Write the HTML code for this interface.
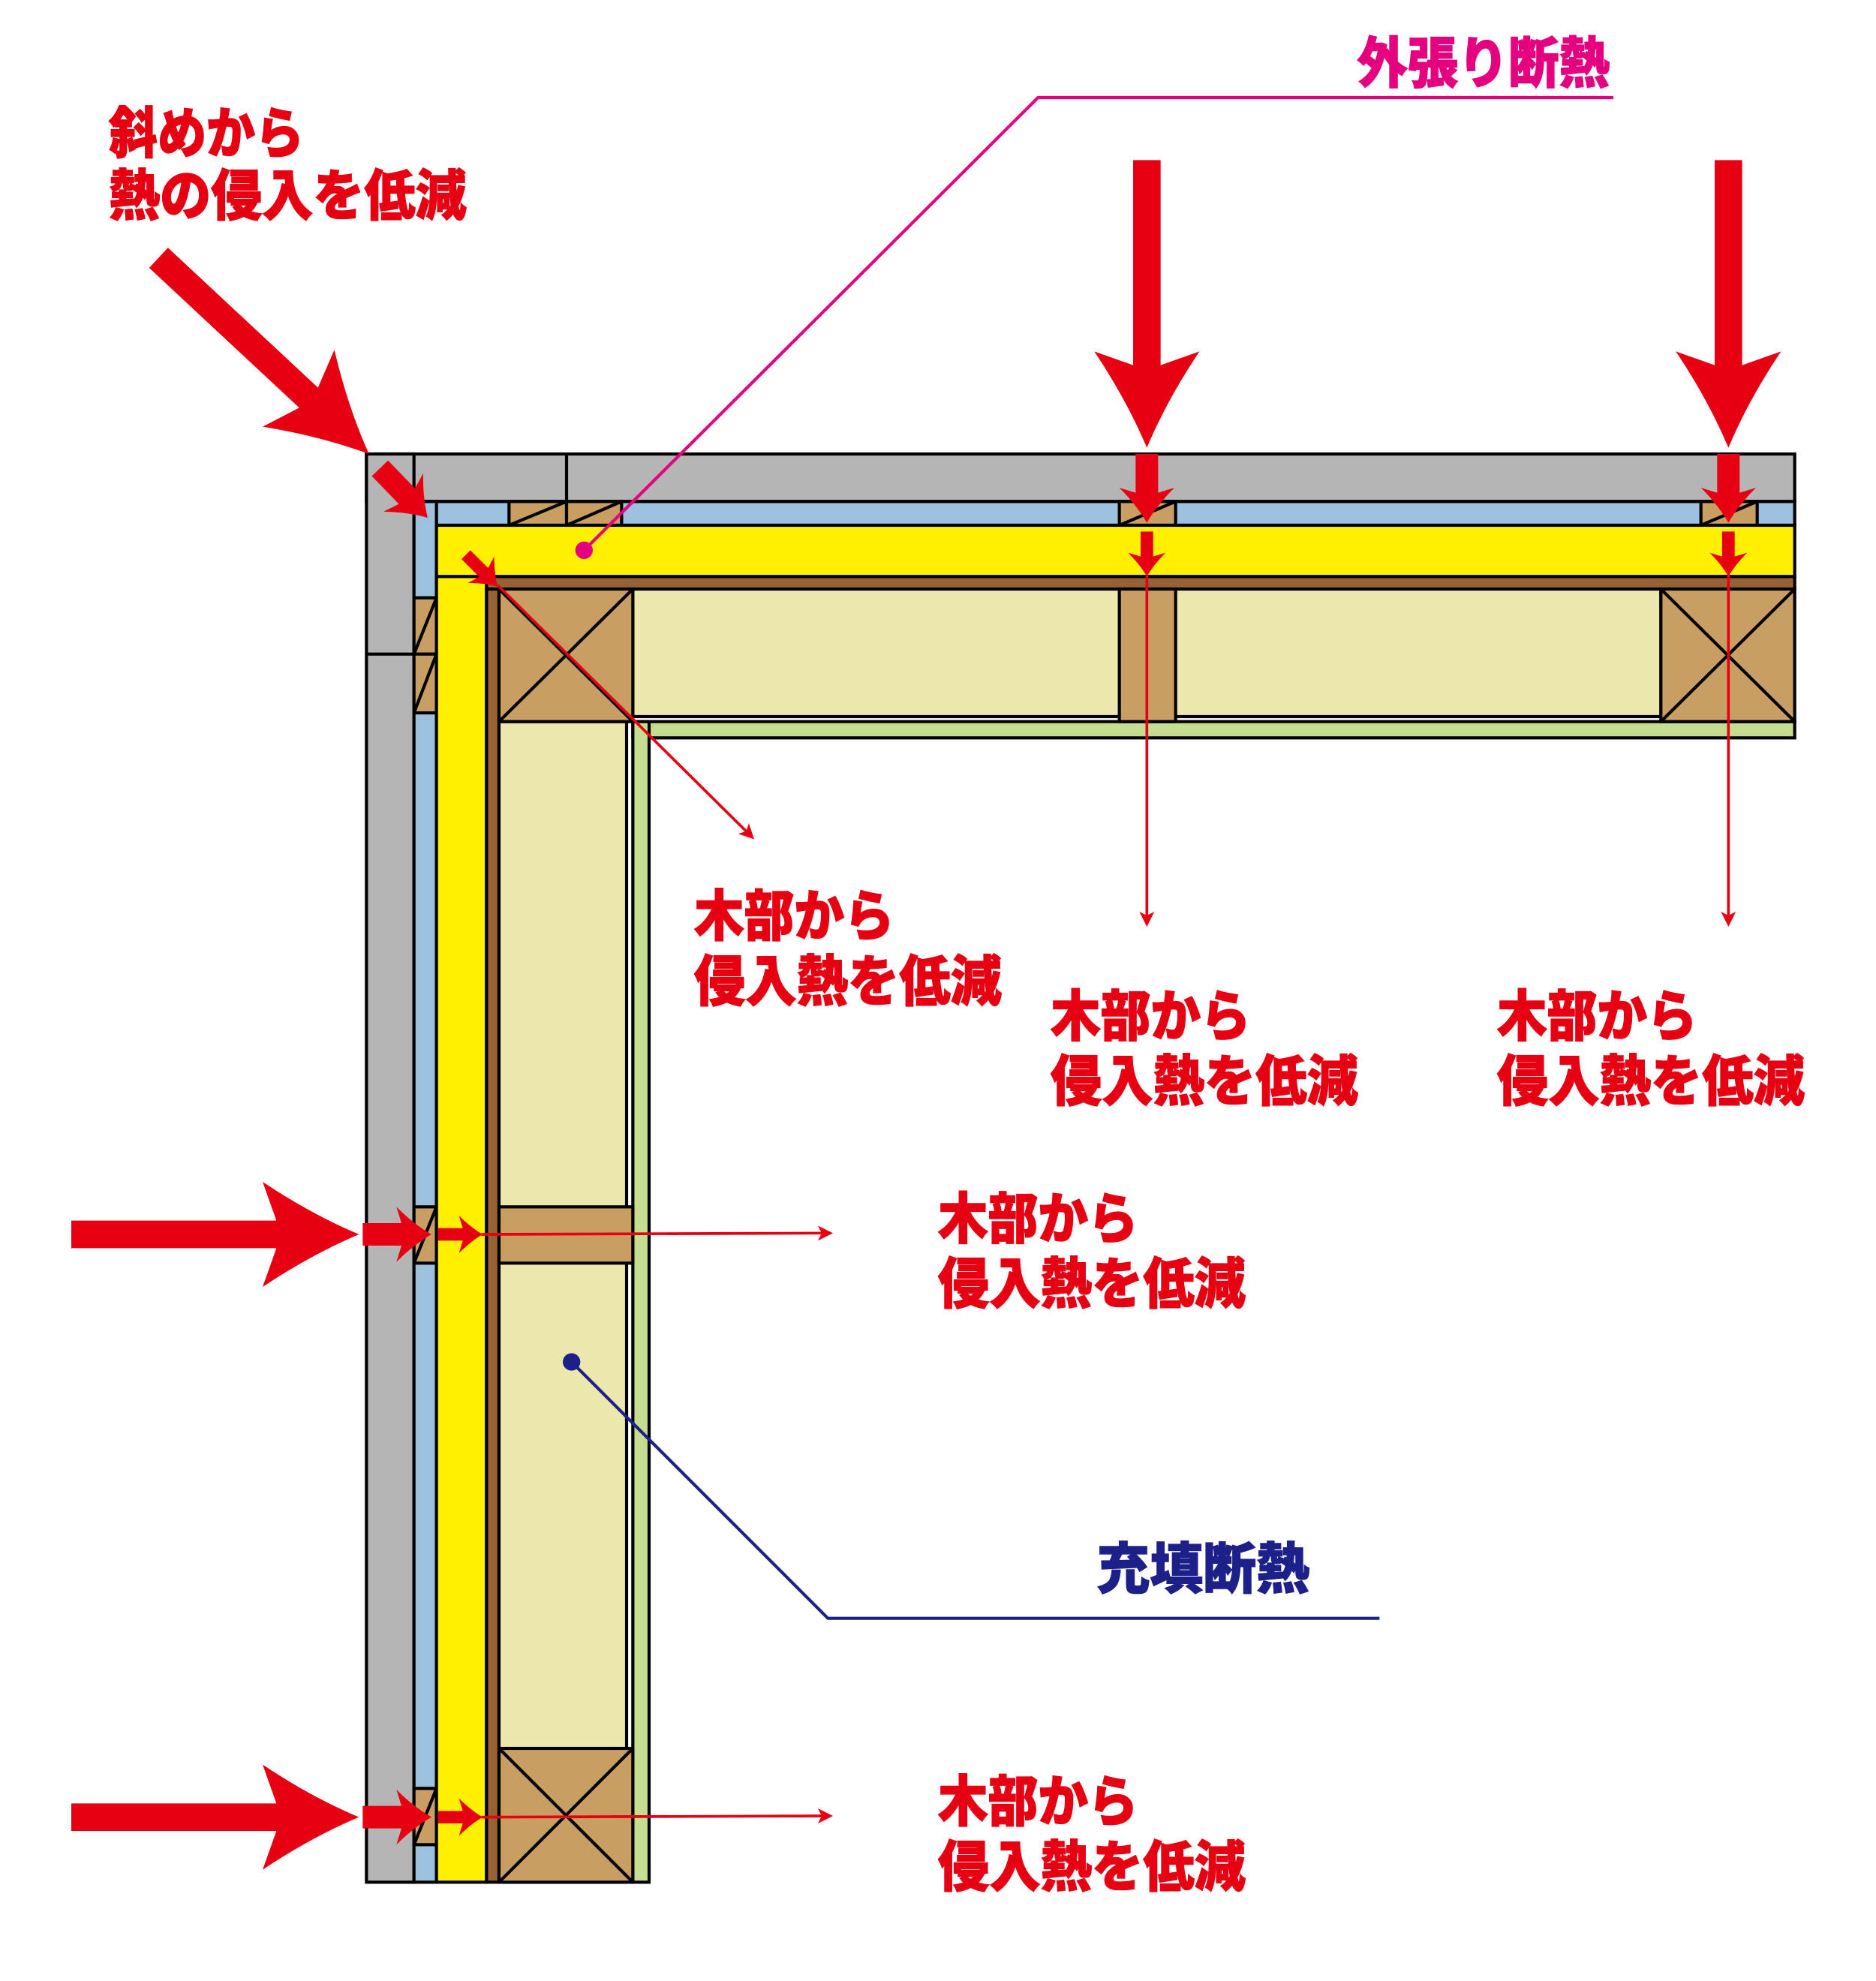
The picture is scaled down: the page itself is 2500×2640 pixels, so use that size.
<!DOCTYPE html>
<html><head><meta charset="utf-8"><style>html,body{margin:0;padding:0;background:#fff}svg{display:block}</style></head>
<body>
<svg width="2500" height="2640" viewBox="0 0 1500 1584" xmlns="http://www.w3.org/2000/svg">
<defs>
<path id="big" d="M0,0 Q-38,-16 -77,-42 L-66,-11 L-230,-11 L-230,11 L-66,11 L-77,42 Q-38,16 0,0 Z" fill="#e60012"/>
<path id="med" d="M0,0 Q-14,-8 -28,-22 L-24,-9 L-55,-9 L-55,9 L-24,9 L-28,22 Q-14,8 0,0 Z" fill="#e60012"/>
<path id="sml" d="M0,0 Q-9,-5 -19,-15 L-16,-5 L-36,-5 L-36,5 L-16,5 L-19,15 Q-9,5 0,0 Z" fill="#e60012"/>
<path id="tip" d="M0,0 L-12,-6 L-9,0 L-12,6 Z" fill="#e60012"/>
</defs>
<g stroke="#000" stroke-width="2.5">
<rect x="293" y="363" width="1142" height="38" fill="#b5b5b5"/>
<rect x="293" y="363" width="38" height="1142" fill="#b5b5b5"/>
<line x1="453" y1="363" x2="453" y2="401"/>
<line x1="293" y1="523" x2="331" y2="523"/>
<rect x="331" y="401" width="1104" height="19" fill="#9dc0dc"/>
<rect x="331" y="401" width="18" height="1104" fill="#9dc0dc"/>
<g fill="#c89e63">
<rect x="407" y="401" width="46" height="19"/><line x1="407" y1="420" x2="453" y2="401"/>
<rect x="453" y="401" width="44" height="19"/><line x1="453" y1="420" x2="497" y2="401"/>
<rect x="895" y="401" width="45" height="19"/><line x1="895" y1="420" x2="940" y2="401"/>
<rect x="1360" y="401" width="45" height="19"/><line x1="1360" y1="420" x2="1405" y2="401"/>
<rect x="331" y="478" width="18" height="45"/><line x1="349" y1="478" x2="331" y2="523"/>
<rect x="331" y="523" width="18" height="47"/><line x1="349" y1="523" x2="331" y2="570"/>
<rect x="331" y="965" width="18" height="45"/><line x1="349" y1="965" x2="331" y2="1010"/>
<rect x="331" y="1430" width="18" height="45"/><line x1="349" y1="1430" x2="331" y2="1475"/>
</g>
<rect x="349" y="420" width="1086" height="41" fill="#fff100"/>
<rect x="349" y="461" width="40" height="1044" fill="#fff100"/>
<rect x="389" y="461" width="1046" height="10" fill="#966234"/>
<rect x="389" y="471" width="10" height="1034" fill="#966234"/>
<rect x="506" y="577" width="929" height="13" fill="#c5dd8f"/>
<rect x="506" y="577" width="13" height="928" fill="#c5dd8f"/>
<rect x="506" y="471" width="822" height="102" fill="#ece8ad"/>
<rect x="399" y="577" width="102" height="928" fill="#ece8ad"/>
<g fill="#c89e63">
<rect x="399" y="471" width="107" height="106"/><path d="M399,471 L506,577 M506,471 L399,577" fill="none"/>
<rect x="895" y="471" width="45" height="106"/>
<rect x="1328" y="471" width="107" height="106"/><path d="M1328,471 L1435,577 M1435,471 L1328,577" fill="none"/>
<rect x="399" y="965" width="107" height="45"/>
<rect x="399" y="1398" width="107" height="107"/><path d="M399,1398 L506,1505 M506,1398 L399,1505" fill="none"/>
</g>
</g>
<polyline points="467,440 830,78 1290,78" fill="none" stroke="#e4007f" stroke-width="2.5"/>
<circle cx="467" cy="440" r="7" fill="#e4007f"/>
<polyline points="457,1089 662,1294 1103,1294" fill="none" stroke="#1d2088" stroke-width="2.5"/>
<circle cx="457" cy="1089" r="7" fill="#1d2088"/>
<g stroke="#e60012" stroke-width="2.2">
<line x1="385" y1="987" x2="662" y2="986"/>
<line x1="385" y1="1453" x2="662" y2="1452"/>
<line x1="917" y1="460" x2="917" y2="737"/>
<line x1="1382" y1="460" x2="1382" y2="737"/>
<line x1="398" y1="468" x2="600" y2="668"/>
</g>
<use href="#tip" transform="translate(666,986)"/>
<use href="#tip" transform="translate(666,1452)"/>
<use href="#tip" transform="translate(917,741) rotate(90)"/>
<use href="#tip" transform="translate(1382,741) rotate(90)"/>
<use href="#tip" transform="translate(603,671) rotate(45)"/>
<use href="#big" transform="translate(287,987)"/>
<use href="#big" transform="translate(287,1453)"/>
<use href="#big" transform="translate(917,358) rotate(90)"/>
<use href="#big" transform="translate(1382,358) rotate(90)"/>
<use href="#big" transform="translate(295,363) rotate(43)"/>
<use href="#med" transform="translate(345,987)"/>
<use href="#med" transform="translate(345,1453)"/>
<use href="#med" transform="translate(917,418) rotate(90)"/>
<use href="#med" transform="translate(1382,418) rotate(90)"/>
<use href="#med" transform="translate(342,414) rotate(46)"/>
<use href="#sml" transform="translate(386,987)"/>
<use href="#sml" transform="translate(386,1453)"/>
<use href="#sml" transform="translate(917,461) rotate(90)"/>
<use href="#sml" transform="translate(1382,461) rotate(90)"/>
<use href="#sml" transform="translate(398,469) rotate(45)"/>
<g font-family="'Liberation Sans','Noto Sans CJK JP',sans-serif" font-weight="900" font-size="44" fill="#e60012" stroke="#e60012" stroke-width="0.8">
<text x="87" y="122" textLength="156" lengthAdjust="spacingAndGlyphs">斜めから</text>
<text x="87" y="172" textLength="286" lengthAdjust="spacingAndGlyphs">熱の侵入を低減</text>
<text x="555" y="748" textLength="160" lengthAdjust="spacingAndGlyphs">木部から</text>
<text x="555" y="800" textLength="246" lengthAdjust="spacingAndGlyphs">侵入熱を低減</text>
<text x="840" y="828" textLength="160" lengthAdjust="spacingAndGlyphs">木部から</text>
<text x="840" y="880" textLength="246" lengthAdjust="spacingAndGlyphs">侵入熱を低減</text>
<text x="1197" y="828" textLength="160" lengthAdjust="spacingAndGlyphs">木部から</text>
<text x="1197" y="880" textLength="246" lengthAdjust="spacingAndGlyphs">侵入熱を低減</text>
<text x="750" y="990" textLength="160" lengthAdjust="spacingAndGlyphs">木部から</text>
<text x="750" y="1042" textLength="246" lengthAdjust="spacingAndGlyphs">侵入熱を低減</text>
<text x="750" y="1456" textLength="160" lengthAdjust="spacingAndGlyphs">木部から</text>
<text x="750" y="1508" textLength="246" lengthAdjust="spacingAndGlyphs">侵入熱を低減</text>
<text x="1085" y="66" textLength="202" lengthAdjust="spacingAndGlyphs" fill="#e4007f" stroke="#e4007f">外張り断熱</text>
<text x="877" y="1270" textLength="170" lengthAdjust="spacingAndGlyphs" fill="#1d2088" stroke="#1d2088">充填断熱</text>
</g>
</svg>
</body></html>
